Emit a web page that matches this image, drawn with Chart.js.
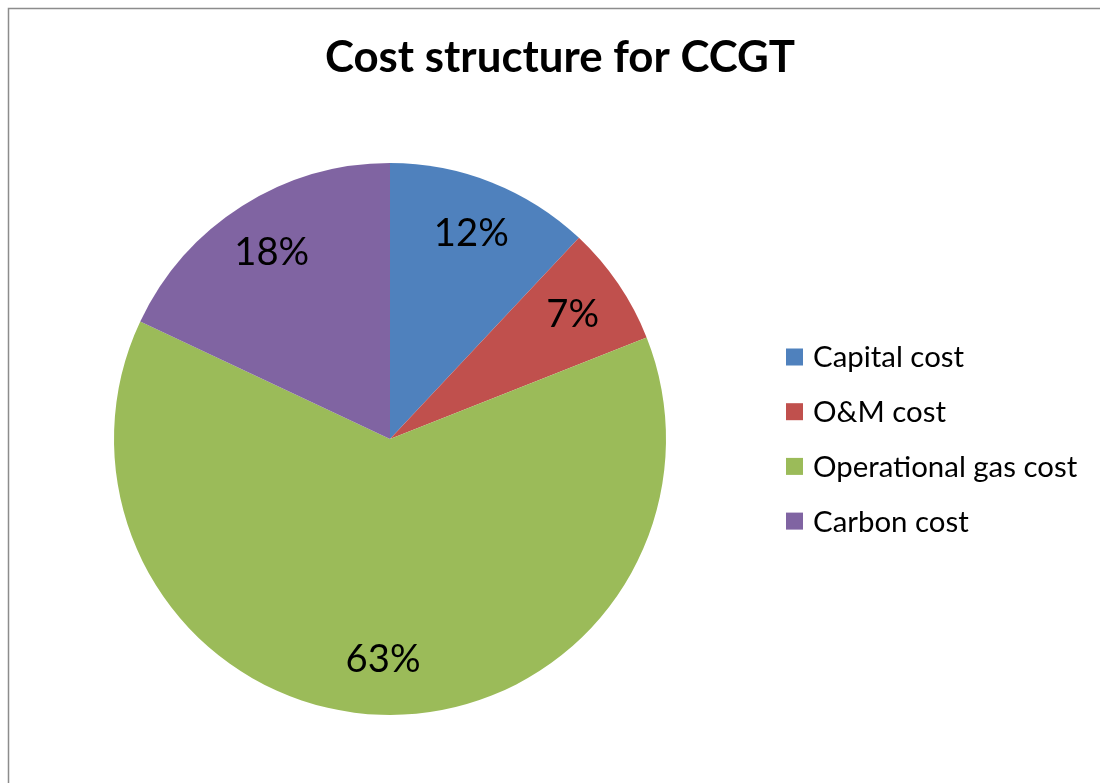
<!DOCTYPE html>
<html>
<head>
<meta charset="utf-8">
<title>Cost structure for CCGT</title>
<script src="https://cdn.jsdelivr.net/npm/chart.js@4/dist/chart.umd.min.js"></script>
<style>
  html, body { margin: 0; padding: 0; background: #fff; }
  #wrap { width: 1100px; height: 783px; position: relative; }
</style>
</head>
<body>
<div id="wrap"><canvas id="pieChart" width="1100" height="783"></canvas></div>
<script>
// Cost split for a combined cycle gas turbine, in percent
const CATEGORIES = ["Capital cost", "O&M cost", "Operational gas cost", "Carbon cost"];
const SHARES = [12, 7, 63, 18];
const COLORS = ["#4F81BD", "#C0504D", "#9BBB59", "#8064A2"];
const TITLE = "Cost structure for CCGT";

const FONT = "Lato, 'Noto Sans', sans-serif";

// scale a font so that a reference string comes out at a given width
function fitFont(ctx, weight, text, width) {
  ctx.font = weight + " 100px " + FONT;
  const size = 100 * width / ctx.measureText(text).width;
  return weight + " " + size.toFixed(1) + "px " + FONT;
}

// frame, title, percentage labels and the legend on the right
const decorations = {
  id: "decorations",
  afterDraw(chart) {
    const ctx = chart.ctx;
    ctx.save();

    // chart frame (runs off the right and bottom edge)
    ctx.strokeStyle = "#8c8c8c";
    ctx.lineWidth = 1.5;
    ctx.strokeRect(8.5, 8.5, 1400, 1000);

    ctx.fillStyle = "#000";
    ctx.textAlign = "center";
    ctx.textBaseline = "alphabetic";
    ctx.font = fitFont(ctx, "bold", TITLE, 470);
    ctx.fillText(TITLE, 560, 72);

    // percentages inside the slices
    const meta = chart.getDatasetMeta(0);
    const total = SHARES.reduce((a, b) => a + b, 0);
    ctx.font = fitFont(ctx, "normal", "12%", 75);
    ctx.textBaseline = "middle";
    meta.data.forEach((arc, i) => {
      const p = arc.getProps(["x", "y", "startAngle", "endAngle", "outerRadius"], true);
      const mid = (p.startAngle + p.endAngle) / 2;
      const r = p.outerRadius * 0.8;
      const label = Math.round(SHARES[i] / total * 100) + "%";
      ctx.fillText(label, p.x + Math.cos(mid) * r, p.y + Math.sin(mid) * r);
    });

    // legend
    ctx.textAlign = "left";
    ctx.font = fitFont(ctx, "normal", "Operational gas cost", 264);
    CATEGORIES.forEach((name, i) => {
      const cy = 357 + i * 54.7;
      ctx.fillStyle = COLORS[i];
      ctx.fillRect(786, cy - 8.5, 17, 17);
      ctx.fillStyle = "#000";
      ctx.fillText(name, 813, cy + 1);
    });

    ctx.restore();
  }
};

new Chart(document.getElementById("pieChart"), {
  type: "pie",
  data: {
    labels: CATEGORIES,
    datasets: [{
      data: SHARES,
      backgroundColor: COLORS,
      borderWidth: 0
    }]
  },
  options: {
    responsive: false,
    animation: false,
    layout: { padding: { left: 114, right: 434, top: 163, bottom: 68 } },
    plugins: {
      legend: { display: false },
      title: { display: false },
      tooltip: { enabled: false }
    }
  },
  plugins: [decorations]
});
</script>
</body>
</html>
